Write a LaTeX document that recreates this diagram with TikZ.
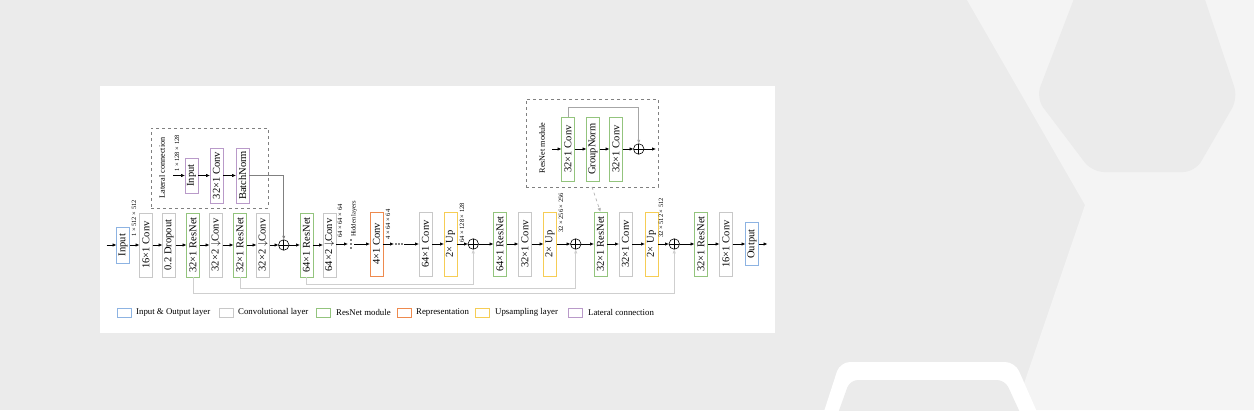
\documentclass[tikz,border=0pt]{standalone}
\usepackage{fontspec}
\setmainfont{Liberation Serif}
\usetikzlibrary{positioning}
\usetikzlibrary{arrows.meta}

\definecolor{bgray}{HTML}{EBEBEB}
\definecolor{bglight}{HTML}{F4F4F4}
\definecolor{ioblue}{HTML}{8DB3E2}
\definecolor{convgray}{HTML}{C8C8C8}
\definecolor{resgreen}{HTML}{93C47D}
\definecolor{repor}{HTML}{EE8A4E}
\definecolor{upyel}{HTML}{F6CD55}
\definecolor{latpur}{HTML}{B99AC9}
\definecolor{skipgray}{HTML}{CFCFCF}

\newcommand{\vtxt}[1]{\rotatebox{90}{#1}}

\begin{document}
\begin{tikzpicture}[x=1pt, y=-1pt, node distance=10pt, >={Latex[length=4pt,width=3.4pt]},
    every node/.style={font=\fontsize{10.5}{12}\selectfont},
    blk/.style={draw, line width=1pt, fill=white, minimum width=13pt, minimum height=64pt, inner sep=0pt, outer sep=0pt},
    conv/.style={blk, draw=convgray},
    resn/.style={blk, draw=resgreen},
    repr/.style={blk, draw=repor},
    upsm/.style={blk, draw=upyel},
    iobox/.style={blk, draw=ioblue},
    latb/.style={blk, draw=latpur, minimum height=55pt},
    addop/.style={draw, circle, fill=white, minimum size=10.5pt, inner sep=0pt, outer sep=0pt, line width=0.6pt,
      path picture={\draw[line width=0.6pt] (path picture bounding box.north) -- (path picture bounding box.south)
        (path picture bounding box.west) -- (path picture bounding box.east);}},
    dimlbl/.style={font=\fontsize{6.5}{7}\selectfont, inner sep=0pt, anchor=south},
    boxlbl/.style={font=\fontsize{8.2}{9}\selectfont, inner sep=0pt},
    flow/.style={->, line width=0.7pt},
    skipline/.style={->, draw=skipgray, line width=0.8pt},
    dashbox/.style={draw=gray, dashed, line width=0.7pt, inner sep=0pt, outer sep=0pt},
    legbox/.style={draw, line width=0.9pt, minimum width=14pt, minimum height=9pt, inner sep=0pt, outer sep=0pt},
    legtxt/.style={font=\fontsize{8.8}{10}\selectfont, inner sep=0pt}]

% background
\useasboundingbox (0,0) rectangle (1254,410);
\fill[bgray] (0,0) rectangle (1254,410);
\fill[bglight] (967,0) -- (1085,205) -- (1015,410) -- (1254,410) -- (1254,0) -- cycle;
\fill[bgray, rounded corners=12pt] (1085,-30) -- (1036,98) -- (1092,172) -- (1195,172) -- (1238,98) -- (1195,-30) -- cycle;
\fill[white, rounded corners=10pt] (818,430) -- (840,362) -- (1015,362) -- (1045,430) -- cycle;
\fill[bgray, rounded corners=8pt] (832,430) -- (850,380) -- (1005,380) -- (1028,430) -- cycle;
\fill[white] (100,86) rectangle (775,333);

% main row
\node[iobox, minimum height=36pt] (in) at (123,245) {\vtxt{Input}};
\coordinate[left=10pt of in] (start);
\node[conv, right=10pt of in] (c1) {\vtxt{16×1 Conv}};
\node[conv, right=10pt of c1] (dp) {\vtxt{0.2 Dropout}};
\node[resn, right=11pt of dp] (r1) {\vtxt{32×1 ResNet}};
\node[conv, right=10pt of r1] (c2) {\vtxt{32×2 $\downarrow$Conv}};
\node[resn, right=11pt of c2] (r2) {\vtxt{32×1 ResNet}};
\node[conv, right=10pt of r2] (c3) {\vtxt{32×2 $\downarrow$Conv}};
\node[addop, right=9pt of c3] (p1) {};
\node[resn, right=11pt of p1] (r3) {\vtxt{64×1 ResNet}};
\node[conv, right=10pt of r3] (c4) {\vtxt{64×2 $\downarrow$Conv}};
\coordinate (vd) at (351,244);
\node[repr, right=19pt of vd] (c5) {\vtxt{4×1 Conv}};
\coordinate[right=16pt of c5] (hd);
\node[conv, right=36pt of c5] (c6) {\vtxt{64×1 Conv}};
\node[upsm, right=12pt of c6] (u1) {\vtxt{2× Up}};
\node[addop, right=11pt of u1] (p2) {};
\node[resn, right=15pt of p2] (r4) {\vtxt{64×1 ResNet}};
\node[conv, right=12pt of r4] (c7) {\vtxt{32×1 Conv}};
\node[upsm, right=12pt of c7] (u2) {\vtxt{2× Up}};
\node[addop, right=14pt of u2] (p3) {};
\node[resn, right=13pt of p3] (r5) {\vtxt{32×1 ResNet}};
\node[conv, right=12pt of r5] (c8) {\vtxt{32×1 Conv}};
\node[upsm, right=13pt of c8] (u3) {\vtxt{2× Up}};
\node[addop, right=11pt of u3] (p4) {};
\node[resn, right=15pt of p4] (r6) {\vtxt{32×1 ResNet}};
\node[conv, right=12pt of r6] (c9) {\vtxt{16×1 Conv}};
\node[iobox, minimum height=43pt, right=13pt of c9] (out) {\vtxt{Output}};
\coordinate[right=9pt of out] (stop);

\foreach \d in {-4,0,4} \fill ([yshift=\d pt]vd) circle (0.8pt);
\foreach \d in {-3,0,3} \fill ([xshift=\d pt]hd) circle (0.8pt);

\draw[flow] (start) -- (in);
\draw[flow] (in) -- (c1);
\draw[flow] (c1) -- (dp);
\draw[flow] (dp) -- (r1);
\draw[flow] (r1) -- (c2);
\draw[flow] (c2) -- (r2);
\draw[flow] (r2) -- (c3);
\draw[flow] (c3) -- (p1);
\draw[flow] (p1) -- (r3);
\draw[flow] (r3) -- (c4);
\draw[flow] (c4.east |- vd) -- ([xshift=-3pt]vd);
\draw[flow] ([xshift=3pt]vd) -- (c5.west |- vd);
\draw[flow] (c5.east |- hd) -- ([xshift=-5pt]hd);
\draw[flow] ([xshift=5pt]hd) -- (c6.west |- hd);
\draw[flow] (c6) -- (u1);
\draw[flow] (u1) -- (p2);
\draw[flow] (p2) -- (r4);
\draw[flow] (r4) -- (c7);
\draw[flow] (c7) -- (u2);
\draw[flow] (u2) -- (p3);
\draw[flow] (p3) -- (r5);
\draw[flow] (r5) -- (c8);
\draw[flow] (c8) -- (u3);
\draw[flow] (u3) -- (p4);
\draw[flow] (p4) -- (r6);
\draw[flow] (r6) -- (c9);
\draw[flow] (c9) -- (out);
\draw[flow] (out) -- (stop);

% skip connections
\draw[skipline] (r1.south) -- ++(0,16) -| (p4.south);
\draw[skipline] (r2.south) -- ++(0,11) -| (p3.south);
\draw[skipline] (r3.south) -- ++(0,7) -| (p2.south);

% tensor sizes
\node[dimlbl] at (134,237) {\vtxt{1 × 512 × 512}};
\node[dimlbl] at (340,238) {\vtxt{64 × 64 × 64}};
\node[dimlbl] at (354,237) {\vtxt{Hidden layers}};
\node[dimlbl] at (388,240) {\vtxt{4 × 64 × 64}};
\node[dimlbl] at (462,243) {\vtxt{64 × 128 × 128}};
\node[dimlbl] at (561,233) {\vtxt{32 × 256 × 256}};
\node[dimlbl] at (661,238) {\vtxt{32 × 512 × 512}};

% lateral connection
\node[dashbox, minimum width=117pt, minimum height=80pt] (lbox) at (209.5,168) {};
\node[boxlbl] at (162,168) {\vtxt{Lateral connection}};
\node[latb, minimum height=35pt] (lin) at (191.5,175.5) {\vtxt{Input}};
\node[latb, right=12pt of lin] (lcv) {\vtxt{32×1 Conv}};
\node[latb, right=13pt of lcv] (lbn) {\vtxt{BatchNorm}};
\coordinate (lstart) at (173,175.5);
\node[dimlbl] at (177,172) {\vtxt{1 × 128 × 128}};
\draw[flow] (lstart) -- (lin);
\draw[flow] (lin) -- (lcv);
\draw[flow] (lcv) -- (lbn);
\draw[->, draw=gray, line width=0.8pt] (lbn.east) -| (p1.north);

% resnet module
\node[dashbox, minimum width=132pt, minimum height=88pt] (resbox) at (592,143) {};
\node[boxlbl] at (542,148) {\vtxt{ResNet module}};
\node[resn] (m1) at (568,149) {\vtxt{32×1 Conv}};
\node[resn, right=12pt of m1] (m2) {\vtxt{GroupNorm}};
\node[resn, right=10pt of m2] (m3) {\vtxt{32×1 Conv}};
\node[addop, right=11pt of m3] (mp) {};
\coordinate (min) at (552,149);
\coordinate (mout) at (656,149);
\draw[flow] (min) -- (m1);
\draw[flow] (m1) -- (m2);
\draw[flow] (m2) -- (m3);
\draw[flow] (m3) -- (mp);
\draw[flow] (mp) -- (mout);
\draw[->, draw=gray!70, line width=0.8pt] (m1.north) -- ++(0,-10) -| (mp.north);
\draw[->, draw=gray!60, dashed, line width=0.7pt] (resbox.south) -- (r5.north);

% legend
\node[legbox, draw=ioblue] (l1) at (124,312.5) {};
\node[legtxt, right=5pt of l1] {Input \& Output layer};
\node[legbox, draw=convgray] (l2) at (226,312.5) {};
\node[legtxt, right=5pt of l2] {Convolutional layer};
\node[legbox, draw=resgreen] (l3) at (323,312.5) {};
\node[legtxt, right=6pt of l3] {ResNet module};
\node[legbox, draw=repor] (l4) at (404,312.5) {};
\node[legtxt, right=5pt of l4] {Representation};
\node[legbox, draw=upyel] (l5) at (482,312.5) {};
\node[legtxt, right=6pt of l5] {Upsampling layer};
\node[legbox, draw=latpur] (l6) at (575,312.5) {};
\node[legtxt, right=6pt of l6] {Lateral connection};
\end{tikzpicture}
\end{document}
